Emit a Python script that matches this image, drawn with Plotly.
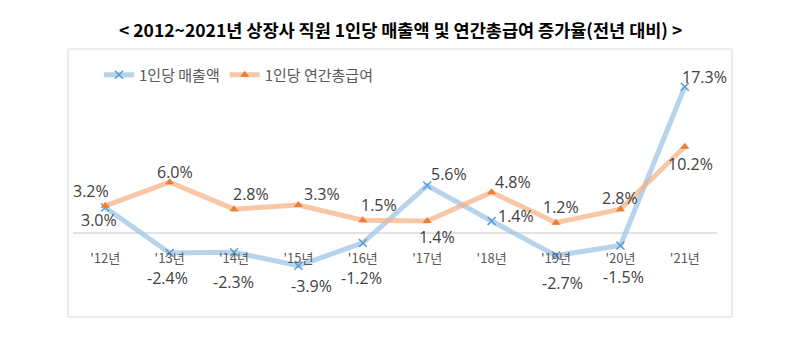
import plotly.graph_objects as go

years = ["'12년", "'13년", "'14년", "'15년", "'16년", "'17년", "'18년", "'19년", "'20년", "'21년"]
sales = [3.0, -2.4, -2.3, -3.9, -1.2, 5.6, 1.4, -2.7, -1.5, 17.3]
wages = [3.2, 6.0, 2.8, 3.3, 1.5, 1.4, 4.8, 1.2, 2.8, 10.2]
name_sales = "1인당 매출액"
name_wages = "1인당 연간총급여"
title = "< 2012~2021년 상장사 직원 1인당 매출액 및 연간총급여 증가율(전년 대비) >"

# label offsets (pixels) for data labels
sales_off = [(-6, 13), (-2, 25), (-1, 30), (13, 20), (-1, 35), (22, -12), (24, -5), (6, 27), (3, 32), (20, -10)]
wages_off = [(-14, -15), (5, -10), (17, -15), (24, -11), (16, -15), (10, 16), (21, -10), (5, -16), (0, -11), (6, 17)]

FONT = "Open Sans, Noto Sans CJK KR, sans-serif"
KFONT = "Noto Sans CJK KR, sans-serif"

fig = go.Figure()
fig.add_trace(go.Scatter(
    x=years, y=sales, name=name_sales, mode="lines+markers",
    line=dict(color="rgba(157,195,230,0.72)", width=5),
    marker=dict(symbol="x-thin", size=8, color="#5b9bd5", line=dict(color="#5b9bd5", width=1.5)),
))
fig.add_trace(go.Scatter(
    x=years, y=wages, name=name_wages, mode="lines+markers",
    line=dict(color="rgba(244,177,131,0.72)", width=5),
    marker=dict(symbol="triangle-up", size=8, color="#ed7d31"),
))

anns = []
for vals, offs in ((sales, sales_off), (wages, wages_off)):
    for x, v, (dx, dy) in zip(years, vals, offs):
        anns.append(dict(x=x, y=v, xref="x", yref="y", text=f"{v:.1f}%", showarrow=False,
                         xshift=dx, yshift=-dy, font=dict(family=FONT, size=16, color="#404040")))
anns.append(dict(x=(400 - 73) / 644, y=(275 - 30) / 211, xref="paper", yref="paper",
                 xanchor="center", yanchor="middle", text=f"<b>{title}</b>", showarrow=False,
                 font=dict(family=KFONT, size=17.5, color="#000000")))

fig.update_layout(
    width=800, height=350,
    margin=dict(l=73, r=83, t=64, b=75),
    paper_bgcolor="white", plot_bgcolor="white",
    showlegend=True,
    legend=dict(orientation="h", x=(99 - 73) / 644, y=(275 - 75) / 211, xanchor="left", yanchor="middle",
                font=dict(family=KFONT, size=15, color="#595959"), bgcolor="rgba(0,0,0,0)",
                itemwidth=30, tracegroupgap=0),
    annotations=anns,
    shapes=[dict(type="rect", xref="paper", yref="paper",
                 x0=(68 - 73) / 644, x1=(732 - 73) / 644,
                 y0=(275 - 317) / 211, y1=(275 - 49) / 211,
                 line=dict(color="#d9d9d9", width=1), layer="below")],
    xaxis=dict(showgrid=False, showline=False, zeroline=False,
               anchor="free", position=(275 - 233) / 211,
               ticks="outside", ticklen=13, tickcolor="rgba(0,0,0,0)",
               tickfont=dict(family=KFONT, size=13, color="#595959"),
               range=[-0.5, 9.5]),
    yaxis=dict(range=[-5, 20], showgrid=False, showticklabels=False, ticks="",
               zeroline=True, zerolinecolor="#e3e3e3", zerolinewidth=1.5),
)

fig.write_html("out.html")
